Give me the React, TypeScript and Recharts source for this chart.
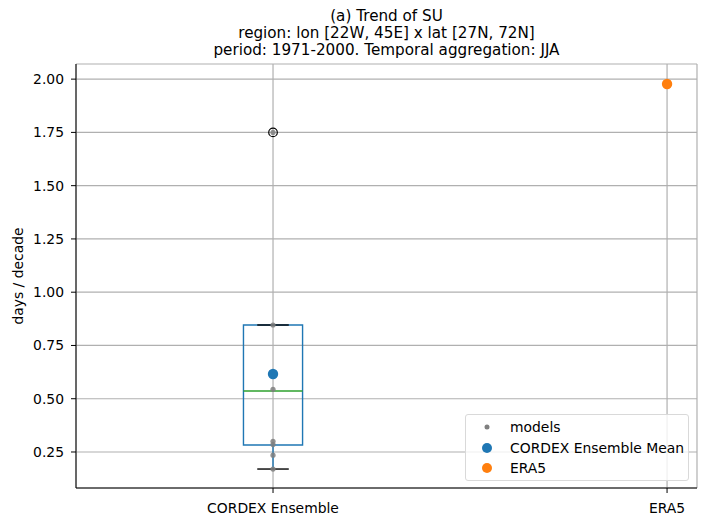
import React from 'react';
import {
  ComposedChart,
  Scatter,
  XAxis,
  YAxis,
  CartesianGrid,
  ReferenceArea,
  ReferenceLine,
  Legend,
} from 'recharts';

// category positions and labels
const categories = [1, 2];
const categoryLabels: Record<number, string> = { 1: 'CORDEX Ensemble', 2: 'ERA5' };
const yTicks = [0.25, 0.5, 0.75, 1.0, 1.25, 1.5, 1.75, 2.0];

// individual model trends (days / decade)
const modelValues = [0.846, 0.544, 0.30, 0.285, 0.235, 0.17, 1.75];

// box statistics for the CORDEX ensemble
const boxQ1 = 0.283;
const boxMedian = 0.536;
const boxQ3 = 0.846;
const whiskerLow = 0.17;
const whiskerHigh = 0.846;
const outliers = [1.75];

const ensembleMean = [0.616];
const era5 = [1.977];

const models = modelValues.map((v) => ({ x: 1, y: v }));
const fliers = outliers.map((v) => ({ x: 1, y: v }));
const meanPts = ensembleMean.map((v) => ({ x: 1, y: v }));
const era5Pts = era5.map((v) => ({ x: 2, y: v }));

const HALF = 0.075;
const CAP = 0.04;
const FONT = 'DejaVu Sans, sans-serif';

const LegendBox = () => (
  <div
    style={{
      position: 'absolute',
      left: 465,
      top: 414,
      width: 224,
      height: 67,
      border: '1px solid #d9d9d9',
      borderRadius: 3,
      background: 'rgba(255,255,255,0.8)',
      fontFamily: FONT,
      fontSize: 13.9,
      color: '#000',
      boxSizing: 'border-box',
    }}
  >
    {[
      { name: 'models', color: '#7f7f7f', r: 2.5 },
      { name: 'CORDEX Ensemble Mean', color: '#1f77b4', r: 5 },
      { name: 'ERA5', color: '#ff7f0e', r: 5 },
    ].map((e, i) => (
      <div key={e.name} style={{ position: 'absolute', left: 0, top: 2 + i * 20.5, height: 20, display: 'flex', alignItems: 'center' }}>
        <svg width={44} height={20}>
          <circle cx={21} cy={10} r={e.r} fill={e.color} />
        </svg>
        <span>{e.name}</span>
      </div>
    ))}
  </div>
);

const App = () => {
  return (
    <div style={{ position: 'absolute', left: 0, top: 0, width: 706, height: 527, background: '#fff', fontFamily: FONT }}>
      <div style={{ position: 'absolute', left: 76, width: 621, top: 8, textAlign: 'center', fontSize: 15.2, lineHeight: '17.2px', color: '#000' }}>
        <div>(a) Trend of SU</div>
        <div>region: lon [22W, 45E] x lat [27N, 72N]</div>
        <div>period: 1971-2000. Temporal aggregation: JJA</div>
      </div>
      <ComposedChart width={706} height={527} margin={{ top: 64, right: 9, bottom: 0, left: 0 }}>
        <CartesianGrid stroke="#b0b0b0" strokeWidth={1.2} />
        <XAxis
          type="number"
          dataKey="x"
          domain={[0.5, 2.076]}
          ticks={categories}
          tickFormatter={(v) => categoryLabels[v] ?? ''}
          height={39}
          stroke="#000"
          tickSize={5}
          tickMargin={10}
          tick={{ fill: '#000', fontSize: 13.9, fontFamily: FONT }}
          allowDataOverflow
        />
        <XAxis xAxisId="top" orientation="top" type="number" domain={[0.5, 2.076]} tick={false} tickLine={false} height={0} stroke="#000" />
        <YAxis
          type="number"
          dataKey="y"
          domain={[0.081, 2.071]}
          ticks={yTicks}
          tickFormatter={(v) => v.toFixed(2)}
          width={76}
          stroke="#000"
          tickSize={5}
          tickMargin={7}
          tick={{ fill: '#000', fontSize: 13.9, fontFamily: FONT }}
          allowDataOverflow
          label={{ value: 'days / decade', angle: -90, position: 'insideLeft', offset: 18, style: { fill: '#000', fontSize: 13.9, fontFamily: FONT, textAnchor: 'middle' } }}
        />
        <YAxis yAxisId="right" orientation="right" type="number" domain={[0.081, 2.071]} tick={false} tickLine={false} width={0} stroke="#000" />
        <ReferenceArea x1={1 - HALF} x2={1 + HALF} y1={boxQ1} y2={boxQ3} fill="none" stroke="#1f77b4" strokeWidth={1.4} />
        <ReferenceLine segment={[{ x: 1 - HALF, y: boxMedian }, { x: 1 + HALF, y: boxMedian }]} stroke="#2ca02c" strokeWidth={1.4} />
        <ReferenceLine segment={[{ x: 1, y: whiskerLow }, { x: 1, y: boxQ1 }]} stroke="#1f77b4" strokeWidth={1.4} />
        <ReferenceLine segment={[{ x: 1, y: boxQ3 }, { x: 1, y: whiskerHigh }]} stroke="#1f77b4" strokeWidth={1.4} />
        <ReferenceLine segment={[{ x: 1 - CAP, y: whiskerLow }, { x: 1 + CAP, y: whiskerLow }]} stroke="#000" strokeWidth={1.4} />
        <ReferenceLine segment={[{ x: 1 - CAP, y: whiskerHigh }, { x: 1 + CAP, y: whiskerHigh }]} stroke="#000" strokeWidth={1.4} />
        <Scatter
          name="outliers"
          data={fliers}
          isAnimationActive={false}
          shape={(p: any) => <circle cx={p.cx} cy={p.cy} r={4.3} fill="none" stroke="#000" strokeWidth={1.2} />}
        />
        <Scatter
          name="models"
          data={models}
          isAnimationActive={false}
          shape={(p: any) => <circle cx={p.cx} cy={p.cy} r={2.6} fill="#7f7f7f" fillOpacity={0.85} />}
        />
        <Scatter
          name="CORDEX Ensemble Mean"
          data={meanPts}
          isAnimationActive={false}
          shape={(p: any) => <circle cx={p.cx} cy={p.cy} r={5.2} fill="#1f77b4" />}
        />
        <Scatter
          name="ERA5"
          data={era5Pts}
          isAnimationActive={false}
          shape={(p: any) => <circle cx={p.cx} cy={p.cy} r={5.2} fill="#ff7f0e" />}
        />
        <Legend content={() => null} />
      </ComposedChart>
      <LegendBox />
    </div>
  );
};

export default App;
